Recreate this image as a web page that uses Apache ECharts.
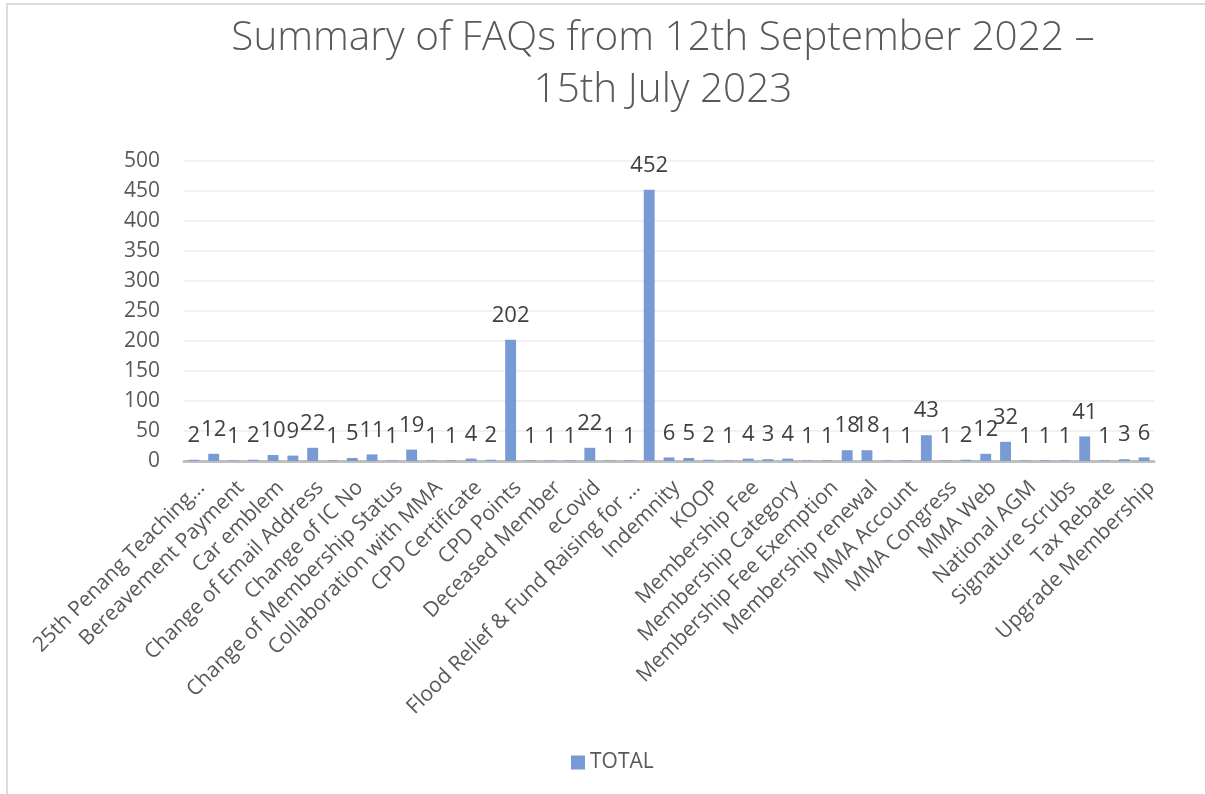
<!DOCTYPE html>
<html>
<head>
<meta charset="utf-8">
<title>Summary of FAQs</title>
<script src="https://cdn.jsdelivr.net/npm/echarts@6/dist/echarts.min.js"></script>
<style>
  html, body { margin: 0; padding: 0; background: #fff; overflow: hidden; }
  #frame { position: absolute; left: 6px; top: 3px; width: 1300px; height: 900px; border-left: 2px solid #dcdcdc; border-top: 2px solid #dcdcdc; }
  #chart { position: absolute; left: 0; top: 0; width: 1205px; height: 794px; }
</style>
</head>
<body>
<div id="frame"></div>
<div id="chart"></div>
<script>
// categories (every other one is shown on the axis)
var categories = [
  '25th Penang Teaching Hospital', 'Annual Subscription', 'Bereavement Payment', 'BMJ Access',
  'Car emblem', 'Certificate of Good Standing', 'Change of Email Address', 'Change of Hospital',
  'Change of IC No', 'Change of Mailing Address', 'Change of Membership Status', 'Change of Name',
  'Collaboration with MMA', 'Complaint', 'CPD Certificate', 'CPD Event',
  'CPD Points', 'Data Update', 'Deceased Member', 'Donation',
  'eCovid', 'Election', 'Flood Relief & Fund Raising for Victims', 'General Enquiry',
  'Indemnity', 'Insurance', 'KOOP', 'Login Issue',
  'Membership Fee', 'Membership Card', 'Membership Category', 'Membership Certificate',
  'Membership Fee Exemption', 'Membership Form', 'Membership renewal', 'Membership Termination',
  'MMA Account', 'MMA App', 'MMA Congress', 'MMA Newsletter',
  'MMA Web', 'MMA Webinar', 'National AGM', 'Password Reset',
  'Signature Scrubs', 'Subscription Payment', 'Tax Rebate', 'Update Profile',
  'Upgrade Membership'
];

var totals = [
  2, 12, 1, 2, 10, 9, 22, 1, 5, 11, 1, 19, 1, 1, 4, 2, 202,
  1, 1, 1, 22, 1, 1, 452, 6, 5, 2, 1, 4, 3, 4, 1, 1, 18, 18,
  1, 1, 43, 1, 2, 12, 32, 1, 1, 1, 41, 1, 3, 6
];

var yTicks = { min: 0, max: 500, step: 50 };

var titleText = 'Summary of FAQs from 12th September 2022 \u2013\n15th July 2023';

var chart = echarts.init(document.getElementById('chart'), null, { renderer: 'canvas' });

chart.setOption({
  backgroundColor: 'transparent',
  animation: false,
  textStyle: { fontFamily: '"Open Sans", sans-serif' },
  title: {
    text: titleText,
    left: 658,
    top: 7,
    textAlign: 'center',
    textStyle: {
      fontFamily: '"Open Sans", sans-serif',
      fontSize: 40.5,
      fontWeight: 300,
      color: '#595959',
      lineHeight: 52
    }
  },
  legend: {
    data: ['TOTAL'],
    left: 566,
    top: 747,
    icon: 'rect',
    itemWidth: 14,
    itemHeight: 14,
    itemGap: 6,
    textStyle: { fontSize: 21, color: '#595959' }
  },
  grid: {
    left: 184,
    right: 51,
    top: 161,
    bottom: 333,
    containLabel: false
  },
  xAxis: {
    type: 'category',
    data: categories,
    axisLine: { lineStyle: { color: '#bfbfbf', width: 3 } },
    axisTick: { show: false },
    axisLabel: {
      interval: 1,
      rotate: 45,
      margin: 16,
      fontSize: 21,
      verticalAlign: 'top',
      color: '#595959',
      formatter: function (v) {
        // Excel truncates the two long names
        if (v.indexOf('25th Penang') === 0) return '25th Penang Teaching\u2026';
        if (v.indexOf('Flood Relief') === 0) return 'Flood Relief & Fund Raising for \u2026';
        return v;
      }
    }
  },
  yAxis: {
    type: 'value',
    min: yTicks.min,
    max: yTicks.max,
    interval: yTicks.step,
    axisLine: { show: false },
    axisTick: { show: false },
    splitLine: { lineStyle: { color: '#ececec', width: 1.5 } },
    axisLabel: { margin: 24, fontSize: 21, color: '#595959' }
  },
  series: [
    {
      name: 'TOTAL',
      type: 'bar',
      data: totals,
      barWidth: '55%',
      itemStyle: { color: '#789BD6' },
      label: {
        show: true,
        position: 'top',
        distance: 13,
        fontSize: 22,
        color: '#404040'
      }
    }
  ]
});
</script>
</body>
</html>
